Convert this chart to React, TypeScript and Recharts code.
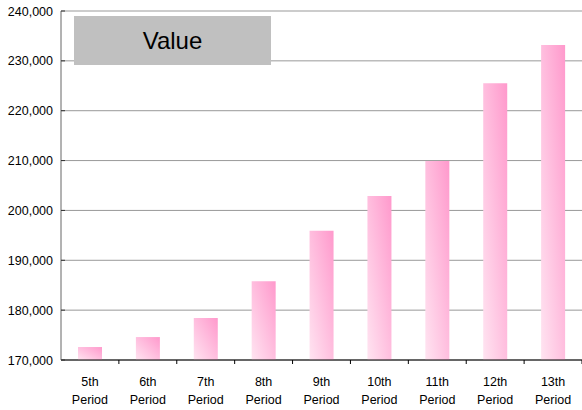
import { BarChart, Bar, XAxis, YAxis, CartesianGrid, Legend } from "recharts";

const periods = ["5th", "6th", "7th", "8th", "9th", "10th", "11th", "12th", "13th"];
const values = [172600, 174600, 178400, 185800, 195900, 202900, 209900, 225500, 233200];
const yTicks = [170000, 180000, 190000, 200000, 210000, 220000, 230000, 240000];

const data = periods.map((p, i) => ({ period: p, value: values[i] }));

const FONT = '"Liberation Sans", Arial, sans-serif';

function YTick(props: any) {
  const { x, y, payload } = props;
  return (
    <g>
      <text x={x} y={y} dy={4.5} textAnchor="end" fontSize={12.5} fill="#000" fontFamily={FONT}>
        {Number(payload.value).toLocaleString("en-US")}
      </text>
      <line x1={x + 8} x2={x + 12} y1={y} y2={y} stroke="#333" />
    </g>
  );
}

function XTick(props: any) {
  const { x, y, payload } = props;
  const half = payload.offset ?? 521 / 18;
  return (
    <g>
      <line x1={x + half} x2={x + half} y1={y} y2={y + 4} stroke="#000" />
      <text x={x} y={y + 26} textAnchor="middle" fontSize={12.5} fill="#000" fontFamily={FONT}>
        {payload.value}
      </text>
      <text x={x} y={y + 44} textAnchor="middle" fontSize={12.5} fill="#000" fontFamily={FONT}>
        Period
      </text>
    </g>
  );
}

function LegendBox() {
  return (
    <div
      style={{
        width: 197,
        height: 49,
        background: "#c0c0c0",
        display: "flex",
        alignItems: "center",
        justifyContent: "center",
        fontFamily: FONT,
        fontSize: 24,
        color: "#000",
      }}
    >
      Value
    </div>
  );
}

export default function App() {
  return (
    <div style={{ position: "fixed", left: 0, top: 0, background: "#fff" }}>
      <BarChart
        width={582}
        height={410}
        data={data}
        margin={{ top: 11, right: 0, left: 0, bottom: 0 }}
        barSize={24}
      >
        <defs>
          <linearGradient id="pinkBar" x1="0" y1="1" x2="1" y2="0">
            <stop offset="0%" stopColor="#ffe4f1" />
            <stop offset="100%" stopColor="#ff99cc" />
          </linearGradient>
        </defs>
        <CartesianGrid vertical={false} stroke="#999" />
        <XAxis
          dataKey="period"
          axisLine={{ stroke: "#000" }}
          tickLine={false}
          tickSize={0}
          tickMargin={0}
          tick={<XTick />}
          height={50}
          interval={0}
        />
        <YAxis
          domain={[170000, 240000]}
          ticks={yTicks}
          width={61}
          axisLine={{ stroke: "#666" }}
          tickLine={false}
          tickSize={0}
          tickMargin={8}
          tick={<YTick />}
          allowDataOverflow
        />
        <Legend
          layout="horizontal"
          verticalAlign="middle"
          align="center"
          content={<LegendBox />}
          wrapperStyle={{ position: "absolute", left: 74, top: 16, width: 197, height: 49 }}
        />
        <Bar dataKey="value" name="Value" fill="url(#pinkBar)" isAnimationActive={false} />
      </BarChart>
    </div>
  );
}
